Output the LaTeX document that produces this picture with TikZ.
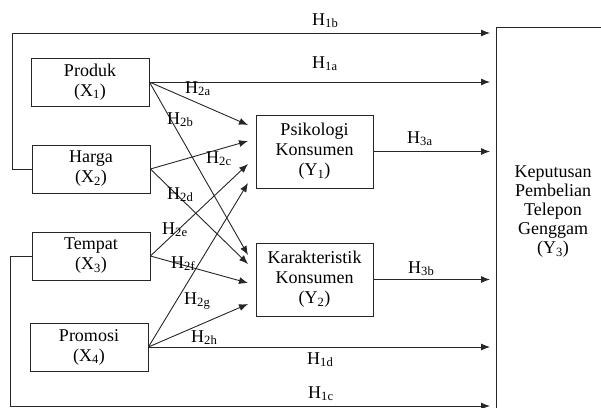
\documentclass[tikz,border=0pt]{standalone}
\usepackage{fontspec}
\setmainfont{Liberation Serif}
\usetikzlibrary{arrows.meta}
\begin{document}
\begin{tikzpicture}[x=1pt,y=-1pt,>={Latex[length=9pt,width=7pt]},
  kotak/.style={draw=black!85,line width=0.8pt,align=center,inner sep=0pt,
    font=\fontsize{18}{20}\selectfont},
  hipo/.style={anchor=base west,inner sep=0pt,font=\fontsize{18}{20}\selectfont},
  panah/.style={->,draw=black!85,line width=0.9pt}]

\path[use as bounding box,clip] (0,0) rectangle (601,407);

% variabel X
\node[kotak,minimum width=118,minimum height=48] (X1) at (90,82) {Produk\\(X\textsubscript{1})};
\node[kotak,minimum width=118,minimum height=48] (X2) at (91,169) {Harga\\(X\textsubscript{2})};
\node[kotak,minimum width=118,minimum height=48] (X3) at (91,256) {Tempat\\(X\textsubscript{3})};
\node[kotak,minimum width=118,minimum height=48] (X4) at (89,347) {Promosi\\(X\textsubscript{4})};

% variabel Y
\node[kotak,minimum width=117,minimum height=73] (Y1) at (314.5,151.5) {Psikologi\\Konsumen\\(Y\textsubscript{1})};
\node[kotak,minimum width=117,minimum height=73] (Y2) at (314.5,279.5) {Karakteristik\\Konsumen\\(Y\textsubscript{2})};
\node[kotak,minimum width=140,minimum height=400,anchor=north west] (Y3) at (496,27) {};
\node[align=center,inner sep=0pt,font=\fontsize{18}{19}\selectfont] (Y3teks) at (553,212)
  {Keputusan\\Pembelian\\Telepon\\Genggam\\(Y\textsubscript{3})};

% ujung panah
\coordinate (ujung) at ([xshift=-6pt]Y3.west);
\coordinate (p1) at (248,125);
\coordinate (p2) at (248,141);
\coordinate (p3) at (248,164);
\coordinate (p4) at (248,183);
\coordinate (q1) at (248,255);
\coordinate (q2) at (248,264);
\coordinate (q3) at (248,283);
\coordinate (q4) at (248,304);

% H1
\draw[panah] (X1.east) -- (X1.east -| ujung);
\draw[panah] (X2.west) -- ++(-19,0) |- (ujung |- 0,33);
\draw[panah] (X3.west) -- ++(-21,0) |- (ujung |- 0,406);
\draw[panah] (X4.east) -- (X4.east -| ujung);
\node[hipo] (h1a) at (312,68) {H\textsubscript{1a}};
\node[hipo] (h1b) at (312,25) {H\textsubscript{1b}};
\node[hipo] (h1c) at (308,398) {H\textsubscript{1c}};
\node[hipo] (h1d) at (307,364) {H\textsubscript{1d}};

% H2
\draw[panah] (X1.east) -- (p1);
\draw[panah] (X1.east) -- (q1);
\draw[panah] (X2.east) -- (p2);
\draw[panah] (X2.east) -- (q2);
\draw[panah] (X3.east) -- (p3);
\draw[panah] (X3.east) -- (q3);
\draw[panah] (X4.east) -- (p4);
\draw[panah] (X4.east) -- (q4);
\node[hipo] (h2a) at (185,93) {H\textsubscript{2a}};
\node[hipo] (h2b) at (167,124) {H\textsubscript{2b}};
\node[hipo] (h2c) at (206,163) {H\textsubscript{2c}};
\node[hipo] (h2d) at (167,199) {H\textsubscript{2d}};
\node[hipo] (h2e) at (162,234) {H\textsubscript{2e}};
\node[hipo] (h2f) at (171,268) {H\textsubscript{2f}};
\node[hipo] (h2g) at (184,304) {H\textsubscript{2g}};
\node[hipo] (h2h) at (191,342) {H\textsubscript{2h}};

% H3
\draw[panah] (Y1.east) -- (Y1.east -| ujung);
\draw[panah] (Y2.east) -- (Y2.east -| ujung);
\node[hipo] (h3a) at (407,143) {H\textsubscript{3a}};
\node[hipo] (h3b) at (408,273) {H\textsubscript{3b}};

\end{tikzpicture}
\end{document}
